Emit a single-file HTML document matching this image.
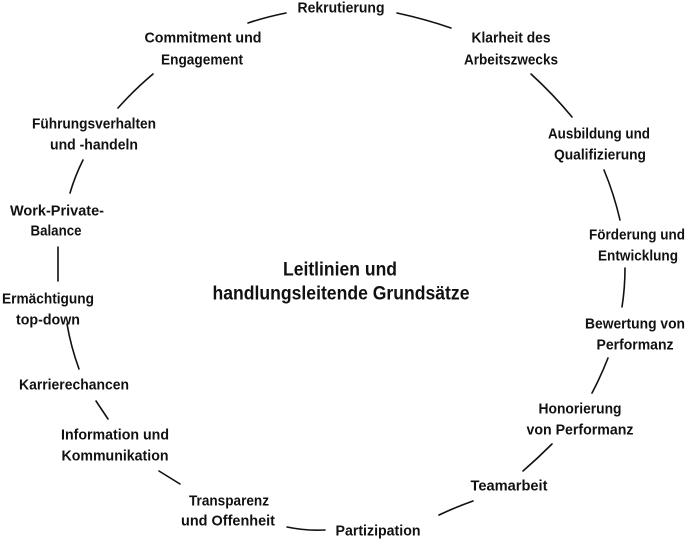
<!DOCTYPE html>
<html><head><meta charset="utf-8"><style>
html,body{margin:0;padding:0;background:#fff;}
svg{display:block}
text{font-family:"Liberation Sans",sans-serif;font-weight:bold;fill:#111;text-anchor:middle;dominant-baseline:central;}
</style></head><body>
<svg width="685" height="542" viewBox="0 0 685 542" xmlns="http://www.w3.org/2000/svg">
<g stroke="#111" stroke-width="1.6" fill="none" stroke-linecap="round">
<path d="M248,23 Q266,17 286,13"/>
<path d="M397,13 Q425,19 451,28"/>
<path d="M153,74 Q134,90 118,108"/>
<path d="M531,74 Q553,94 572,117"/>
<path d="M83,160 Q75,176 70,193"/>
<path d="M604,170 Q614,194 620,220"/>
<path d="M58,247 L58,281"/>
<path d="M625,268 Q625,288 622,307"/>
<path d="M67,324 Q71,347 79,369"/>
<path d="M608,358 Q601,376 592,393"/>
<path d="M96,401 L108,419"/>
<path d="M552,444 Q538,458 523,471"/>
<path d="M159,471 L180,484"/>
<path d="M473,501 Q456,507 439,515"/>
<path d="M287,527 Q306,531 325,530"/>
</g>
<g font-size="15">
<text x="341" y="8" textLength="87" lengthAdjust="spacingAndGlyphs">Rekrutierung</text>
<text x="203" y="38" textLength="117" lengthAdjust="spacingAndGlyphs">Commitment und</text>
<text x="202" y="60" textLength="82" lengthAdjust="spacingAndGlyphs">Engagement</text>
<text x="511" y="38" textLength="79" lengthAdjust="spacingAndGlyphs">Klarheit des</text>
<text x="511" y="60" textLength="94" lengthAdjust="spacingAndGlyphs">Arbeitszwecks</text>
<text x="94" y="124" textLength="124" lengthAdjust="spacingAndGlyphs">Führungsverhalten</text>
<text x="94" y="145" textLength="88" lengthAdjust="spacingAndGlyphs">und -handeln</text>
<text x="599" y="134" textLength="102" lengthAdjust="spacingAndGlyphs">Ausbildung und</text>
<text x="600" y="155" textLength="92" lengthAdjust="spacingAndGlyphs">Qualifizierung</text>
<text x="57" y="211" textLength="94" lengthAdjust="spacingAndGlyphs">Work-Private-</text>
<text x="56" y="231" textLength="51" lengthAdjust="spacingAndGlyphs">Balance</text>
<text x="637" y="235" textLength="96" lengthAdjust="spacingAndGlyphs">Förderung und</text>
<text x="638" y="256" textLength="80" lengthAdjust="spacingAndGlyphs">Entwicklung</text>
<text x="48" y="299" textLength="92" lengthAdjust="spacingAndGlyphs">Ermächtigung</text>
<text x="48" y="320" textLength="64" lengthAdjust="spacingAndGlyphs">top-down</text>
<text x="635" y="324" textLength="100" lengthAdjust="spacingAndGlyphs">Bewertung von</text>
<text x="635" y="345" textLength="77" lengthAdjust="spacingAndGlyphs">Performanz</text>
<text x="74" y="385" textLength="110" lengthAdjust="spacingAndGlyphs">Karrierechancen</text>
<text x="580" y="409" textLength="83" lengthAdjust="spacingAndGlyphs">Honorierung</text>
<text x="580" y="430" textLength="107" lengthAdjust="spacingAndGlyphs">von Performanz</text>
<text x="115" y="435" textLength="108" lengthAdjust="spacingAndGlyphs">Information und</text>
<text x="115" y="456" textLength="107" lengthAdjust="spacingAndGlyphs">Kommunikation</text>
<text x="509" y="486" textLength="77" lengthAdjust="spacingAndGlyphs">Teamarbeit</text>
<text x="229" y="501" textLength="80" lengthAdjust="spacingAndGlyphs">Transparenz</text>
<text x="228" y="521" textLength="94" lengthAdjust="spacingAndGlyphs">und Offenheit</text>
<text x="378" y="531" textLength="85" lengthAdjust="spacingAndGlyphs">Partizipation</text>
</g>
<g font-size="19">
<text x="340" y="270" textLength="114" lengthAdjust="spacingAndGlyphs">Leitlinien und</text>
<text x="341" y="294" textLength="257" lengthAdjust="spacingAndGlyphs">handlungsleitende Grundsätze</text>
</g>
</svg>
</body></html>
